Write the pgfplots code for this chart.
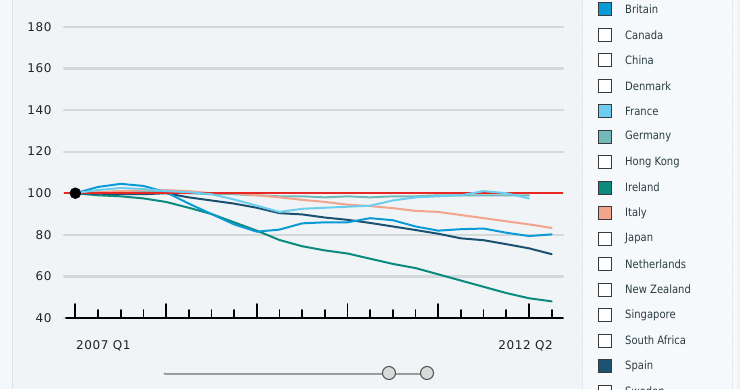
\documentclass[border=0pt]{standalone}
\usepackage{fontspec}
\setmainfont{DejaVu Sans}[FakeStretch=0.87]
\newfontfamily\axfont{DejaVu Sans}[LetterSpace=5]
\usepackage{pgfplots}
\pgfplotsset{compat=1.18}
\usepackage{pgfplotstable}

\definecolor{britain}{HTML}{0A9BD7}
\definecolor{france}{HTML}{6DCDEF}
\definecolor{germany}{HTML}{72B9B9}
\definecolor{ireland}{HTML}{0B8A7E}
\definecolor{italy}{HTML}{F2A48C}
\definecolor{spain}{HTML}{1C5271}
\definecolor{refred}{RGB}{232,40,36}
\definecolor{gridc}{HTML}{D3D9DA}
\definecolor{bgmain}{HTML}{F0F4F6}
\definecolor{bgleft}{HTML}{F5F8FA}
\definecolor{legbg}{HTML}{F6F9FB}
\definecolor{bordc}{HTML}{DDE3E6}
\definecolor{labc}{HTML}{222222}
\definecolor{legtext}{HTML}{2B3D40}
\definecolor{legborder}{HTML}{3A3A3A}
\definecolor{slidc}{HTML}{9A9C9C}
\definecolor{knobc}{HTML}{D8DADA}
\definecolor{knobb}{HTML}{505050}

\pgfplotstableread{
x   brit   fra    ger    ire   ita    spa
0   100    100    100    100   100    100
1   103    101.5  100    99    100.5  99.8
2   104.5  102.5  101    98.5  101    99.5
3   103.5  102    101    97.5  101.5  99.5
4   100.5  101    100.5  95.8  101.5  100
5   95     100.5  100    93    101    98
6   90     99.5   99.5   90    100    96.5
7   85     97     99.5   86    100    95
8   81.5   94     99     82    99     93
9   82.5   91     98.5   77.5  98     90.4
10  85.5   92.5   98.5   74.5  96.8   89.8
11  86     93     98     72.5  95.8   88.3
12  86     93.5   98.5   71    94.5   87.2
13  88     94     98     68.5  93.8   85.7
14  87     96.5   98.5   66    92.8   84
15  84     98     98.5   64    91.5   82.3
16  82     98.5   99     61    91     80.5
17  82.7   99     99     58    89.5   78.3
18  83     101    99     55    88     77.4
19  81     100    99     52    86.5   75.5
20  79.4   97.5   99     49.5  85     73.5
21  80.2   nan    nan    48    83.3   70.7
}\datatable

\begin{document}
\begin{tikzpicture}
\path[use as bounding box] (0pt,0pt) rectangle (740pt,389pt);
\fill[bgmain] (0pt,0pt) rectangle (740pt,389pt);
\fill[bgleft] (0pt,0pt) rectangle (12pt,389pt);
\draw[bordc, line width=1pt] (12.5pt,0pt) -- (12.5pt,389pt);
% legend panel
\fill[legbg] (582pt,0pt) rectangle (737pt,389pt);
\draw[bordc, line width=0.8pt, dash pattern=on 2pt off 1pt] (582pt,0pt) -- (582pt,389pt);
\draw[bordc, line width=0.8pt, dash pattern=on 2pt off 1pt] (732pt,0pt) -- (732pt,389pt);

\coordinate (AX) at (64pt,71pt);
\begin{axis}[
  at={(AX)}, anchor=south west,
  scale only axis, width=499pt, height=312pt,
  xmin=-0.5, xmax=21.5, ymin=40, ymax=190,
  axis lines*=left,
  y axis line style={draw=none},
  x axis line style={black, line width=1.6pt, shorten <=2pt},
  xtick={0,4,8,12,16,20},
  minor xtick={1,2,3,5,6,7,9,10,11,13,14,15,17,18,19,21},
  xticklabels={},
  tick align=inside,
  major tick length=14pt, minor tick length=8pt,
  xtick style={black, line width=1.7pt},
  minor x tick style={black, line width=1.7pt},
  ytick={40,60,...,180},
  ytick style={draw=none},
  ymajorgrids,
  grid style={gridc, line width=2.2pt},
  yticklabel style={font=\axfont\fontsize{12}{14}\selectfont, text=labc, anchor=east, xshift=-9pt},
  /pgf/number format/assume math mode=true,
  line join=round, line cap=round,
]
\addplot[germany, line width=2pt] table[x=x, y=ger] {\datatable};
\addplot[italy, line width=2pt] table[x=x, y=ita] {\datatable};
\addplot[ireland, line width=2pt] table[x=x, y=ire] {\datatable};
\addplot[spain, line width=2pt] table[x=x, y=spa] {\datatable};
\addplot[britain, line width=2pt] table[x=x, y=brit] {\datatable};
\addplot[draw=refred, line width=1.5pt, line cap=butt] coordinates {(-0.5,100) (21.5,100)};
\addplot[france, line width=2pt] table[x=x, y=fra] {\datatable};
\addplot[only marks, mark=*, mark size=5.5pt, black] coordinates {(0,100)};
\end{axis}

\node[anchor=west, inner sep=0pt, font=\axfont\fontsize{12}{14}\selectfont, text=labc] at (76pt,43pt) {2007 Q1};
\node[anchor=east, inner sep=0pt, font=\axfont\fontsize{12}{14}\selectfont, text=labc] at (553pt,43pt) {2012 Q2};

% slider
\draw[slidc, line width=3pt, line cap=round] (165pt,16pt) -- (427pt,16pt);
\draw[white!85!slidc, line width=0.8pt] (165pt,16.3pt) -- (427pt,16.3pt);
\filldraw[fill=knobc, draw=knobb, line width=1pt] (389pt,16pt) circle (6.5pt);
\filldraw[fill=knobc, draw=knobb, line width=1pt] (427pt,16pt) circle (6.5pt);

% legend
\foreach \nm/\col [count=\k from 0] in {Britain/britain, Canada/white, China/white, Denmark/white, France/france, Germany/germany, Hong Kong/white, Ireland/ireland, Italy/italy, Japan/white, Netherlands/white, New Zealand/white, Singapore/white, South Africa/white, Spain/spain, Sweden/white}{
  \pgfmathsetmacro\yy{389-9.3-25.48*\k}
  \filldraw[fill=\col, draw=legborder, line width=0.9pt] (598.5pt,\yy pt-6.5pt) rectangle (611.5pt,\yy pt+6.5pt);
  \node[anchor=west, inner sep=0pt, text=legtext, font=\fontsize{11.5}{13}\selectfont] at (625pt,\yy pt) {\nm};
}
\end{tikzpicture}
\end{document}
